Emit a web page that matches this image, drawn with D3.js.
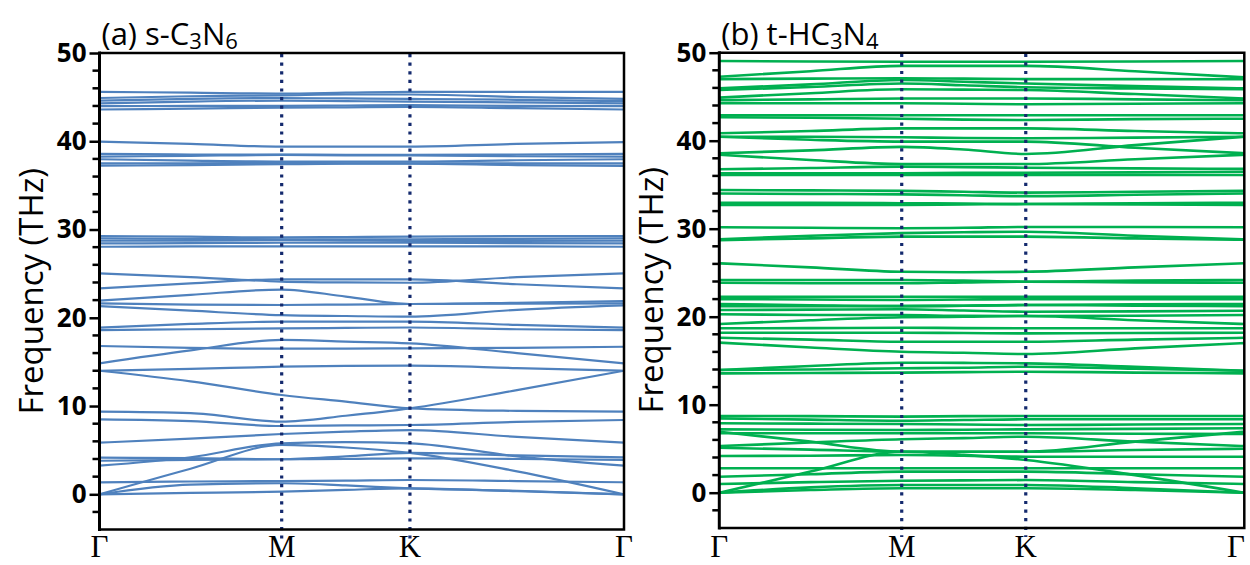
<!DOCTYPE html>
<html>
<head>
<meta charset="utf-8">
<script src="https://cdn.jsdelivr.net/npm/d3@7"></script>
<style>
  body { margin: 0; background: #fff; }
  svg { display: block; }
</style>
</head>
<body>
<svg id="chart" width="1250" height="565"></svg>
<script>
// high symmetry points along the path
const kLabels = ["Γ", "M", "K", "Γ"];
const kPathA = [0, 1, 1.704, 2.879];
const kPathB = [0, 1, 1.68, 2.878];
const yTicks = [0, 10, 20, 30, 40, 50];

// each band: values at Γ, Γ-M mid, M, M-K mid, K, K-Γ mid, Γ  (THz)
const bandsA = [
   [45.6, 45.5, 45.4, 45.5, 45.6, 45.6, 45.6],
   [44.9, 45.1, 45.2, 45.3, 45.3, 45.0, 44.8],
   [44.6, 44.8, 44.9, 44.85, 44.8, 44.7, 44.55],
   [44.3, 44.5, 44.6, 44.55, 44.5, 44.4, 44.3],
   [43.97, 44.0, 44.0, 44.05, 44.1, 44.0, 43.97],
   [43.6, 43.7, 43.8, 43.85, 43.9, 43.75, 43.6],
   [39.95, 39.7, 39.4, 39.4, 39.4, 39.7, 39.9],
   [38.56, 38.5, 38.5, 38.45, 38.45, 38.5, 38.56],
   [38.25, 38.35, 38.45, 38.4, 38.4, 38.3, 38.25],
   [37.96, 37.8, 37.7, 37.7, 37.7, 37.85, 37.96],
   [37.5, 37.5, 37.55, 37.5, 37.5, 37.5, 37.5],
   [37.23, 37.3, 37.4, 37.45, 37.45, 37.3, 37.2],
   [29.26, 29.2, 29.1, 29.15, 29.2, 29.25, 29.26],
   [29.0, 28.95, 28.9, 28.9, 28.9, 28.95, 29.0],
   [28.73, 28.75, 28.8, 28.75, 28.7, 28.7, 28.73],
   [28.43, 28.45, 28.5, 28.5, 28.5, 28.45, 28.43],
   [28.05, 28.08, 28.1, 28.1, 28.1, 28.08, 28.05],
   [25.04, 24.6, 24.1, 24.0, 23.97, 24.6, 25.04],
   [23.34, 23.9, 24.36, 24.36, 24.36, 23.8, 23.34],
   [21.94, 22.6, 23.2, 22.4, 21.56, 21.7, 21.9],
   [21.64, 21.5, 21.45, 21.5, 21.56, 21.6, 21.64],
   [21.33, 20.8, 20.3, 20.2, 20.12, 20.9, 21.4],
   [18.88, 19.3, 19.56, 19.56, 19.56, 19.2, 18.88],
   [18.6, 18.7, 18.8, 18.85, 18.9, 18.7, 18.6],
   [16.8, 16.6, 16.5, 16.5, 16.54, 16.6, 16.72],
   [14.84, 16.3, 17.5, 17.3, 17.1, 16.0, 14.84],
   [14.0, 14.2, 14.46, 14.55, 14.57, 14.3, 14.0],
   [14.0, 12.8, 11.25, 10.5, 9.74, 9.45, 9.36],
   [9.36, 9.2, 8.23, 8.9, 9.74, 11.8, 14.0],
   [8.5, 8.3, 7.74, 7.8, 7.85, 8.2, 8.42],
   [5.85, 6.3, 6.83, 7.1, 7.28, 6.5, 5.85],
   [4.15, 4.1, 3.97, 4.3, 4.7, 4.4, 4.19],
   [3.8, 3.9, 3.97, 4.0, 4.08, 4.0, 3.89],
   [3.24, 4.2, 5.78, 5.9, 5.78, 4.3, 3.24],
   [1.36, 1.45, 1.5, 1.55, 1.62, 1.5, 1.36],
   [0, 2.9, 5.59, 5.3, 4.7, 2.6, 0],
   [0, 1.1, 1.25, 1.0, 0.68, 0.4, 0],
   [0, 0.15, 0.3, 0.5, 0.68, 0.35, 0]
];

const bandsB = [
   [49.06, 49.0, 48.98, 48.98, 48.98, 49.0, 49.06],
   [47.27, 47.9, 48.5, 48.5, 48.5, 47.9, 47.2],
   [47.0, 47.05, 47.1, 47.05, 47.0, 47.0, 46.98],
   [45.95, 46.4, 46.9, 46.7, 46.5, 46.2, 45.95],
   [45.76, 46.1, 46.5, 46.3, 46.07, 45.95, 45.84],
   [44.9, 45.4, 45.84, 45.8, 45.76, 45.3, 44.8],
   [44.6, 44.7, 44.8, 44.8, 44.8, 44.7, 44.6],
   [44.25, 44.25, 44.25, 44.2, 44.14, 44.2, 44.25],
   [42.9, 42.9, 42.9, 42.9, 42.9, 42.9, 42.9],
   [42.66, 42.6, 42.5, 42.4, 42.35, 42.45, 42.5],
   [40.84, 41.1, 41.4, 41.4, 41.4, 41.1, 40.84],
   [40.45, 40.45, 40.4, 40.3, 40.27, 40.35, 40.45],
   [40.45, 40.1, 39.9, 39.9, 39.9, 39.2, 38.57],
   [38.57, 38.9, 39.3, 39.0, 38.49, 39.5, 40.45],
   [38.4, 37.8, 37.35, 37.35, 37.35, 37.9, 38.4],
   [36.75, 36.9, 37.05, 37.0, 36.93, 36.85, 36.8],
   [36.3, 36.3, 36.3, 36.35, 36.36, 36.4, 36.48],
   [36.1, 36.1, 36.1, 36.1, 36.1, 36.1, 36.1],
   [34.4, 34.35, 34.3, 34.2, 34.1, 34.2, 34.3],
   [34.0, 33.95, 33.9, 33.8, 33.7, 33.85, 34.0],
   [32.95, 32.95, 32.9, 32.85, 32.8, 32.9, 32.95],
   [32.7, 32.7, 32.7, 32.75, 32.8, 32.75, 32.7],
   [30.16, 30.1, 30.05, 30.1, 30.2, 30.2, 30.16],
   [28.8, 29.2, 29.5, 29.6, 29.66, 29.2, 28.8],
   [28.7, 28.9, 29.1, 29.1, 29.1, 28.9, 28.75],
   [26.07, 25.6, 25.1, 25.05, 25.1, 25.6, 26.07],
   [24.17, 24.17, 24.17, 24.1, 23.98, 24.1, 24.17],
   [23.86, 23.8, 23.8, 23.9, 23.98, 23.9, 23.86],
   [22.27, 22.27, 22.27, 22.27, 22.27, 22.27, 22.27],
   [22.0, 21.95, 21.9, 21.95, 22.0, 22.0, 22.0],
   [21.44, 21.3, 21.2, 21.25, 21.33, 21.4, 21.44],
   [21.2, 21.2, 21.2, 21.25, 21.33, 21.25, 21.2],
   [20.76, 20.8, 20.84, 20.7, 20.57, 20.6, 20.68],
   [20.27, 20.2, 20.19, 20.1, 20.08, 20.1, 20.19],
   [19.17, 19.6, 19.93, 20.0, 20.08, 19.6, 19.17],
   [18.68, 18.7, 18.75, 18.7, 18.68, 18.68, 18.68],
   [18.18, 18.18, 18.18, 18.15, 18.1, 18.15, 18.18],
   [17.6, 17.4, 17.16, 17.16, 17.16, 17.4, 17.6],
   [17.05, 16.5, 16.02, 15.9, 15.76, 16.4, 17.0],
   [13.94, 14.4, 14.77, 14.75, 14.7, 14.3, 13.86],
   [13.94, 14.0, 14.14, 14.2, 14.32, 14.1, 13.86],
   [13.56, 13.6, 13.64, 13.7, 13.75, 13.65, 13.56],
   [8.72, 8.7, 8.64, 8.7, 8.72, 8.72, 8.72],
   [8.45, 8.3, 8.18, 8.26, 8.34, 8.34, 8.34],
   [7.89, 7.85, 7.8, 7.75, 7.69, 7.75, 7.8],
   [7.2, 7.15, 7.13, 7.15, 7.2, 7.25, 7.32],
   [6.93, 5.8, 4.66, 4.66, 4.66, 5.8, 6.93],
   [6.75, 6.75, 6.75, 6.75, 6.75, 6.7, 6.67],
   [5.3, 5.7, 6.07, 6.2, 6.36, 5.8, 5.3],
   [5.1, 4.9, 4.66, 4.66, 4.66, 4.85, 5.0],
   [4.17, 4.2, 4.28, 4.2, 4.09, 4.09, 4.09],
   [0, 2.4, 4.66, 4.3, 3.72, 2.0, 0],
   [2.77, 2.77, 2.77, 2.77, 2.77, 2.77, 2.77],
   [1.82, 2.1, 2.39, 2.39, 2.39, 2.1, 1.82],
   [0.99, 1.2, 1.36, 1.4, 1.44, 1.2, 0.99],
   [0, 0.6, 0.875, 0.875, 0.875, 0.5, 0],
   [0, 0.3, 0.5, 0.5, 0.5, 0.3, 0]
];

const svg = d3.select("#chart");

function panel(opt) {
   const { left, right, top, bottom, kPath, bands, color, title, sub1, sub2, labelX } = opt;
   const x = d3.scaleLinear().domain([kPath[0], kPath[3]]).range([left, right]);
   const y = d3.scaleLinear().domain([-4, 50]).range([bottom, top]);
   const g = svg.append("g");

   // sample positions: symmetry points and segment midpoints
   const ks = [];
   for (let i = 0; i < 3; i++) {
      ks.push(kPath[i], (kPath[i] + kPath[i + 1]) / 2);
   }
   ks.push(kPath[3]);

   const line = d3.line()
      .x((d, i) => x(ks[i]))
      .y(d => y(d))
      .curve(d3.curveMonotoneX);

   g.append("defs").append("clipPath").attr("id", "clip" + left)
      .append("rect").attr("x", left).attr("y", top).attr("width", right - left).attr("height", bottom - top);

   g.append("g").attr("clip-path", `url(#clip${left})`)
      .selectAll("path").data(bands).join("path")
      .attr("d", line)
      .attr("fill", "none")
      .attr("stroke", color)
      .attr("stroke-width", opt.lw);

   // dotted lines at M and K
   g.selectAll("line.sym").data([kPath[1], kPath[2]]).join("line")
      .attr("class", "sym")
      .attr("x1", d => x(d)).attr("x2", d => x(d))
      .attr("y1", top + 1).attr("y2", bottom + 9)
      .attr("stroke", "#142a6e")
      .attr("stroke-width", 3.2)
      .attr("stroke-dasharray", "3.2,5.4");

   // frame
   g.append("path")
      .attr("d", `M${left},${top}H${right}V${bottom}H${left}`)
      .attr("fill", "none").attr("stroke", "#000").attr("stroke-width", 2.5);
   g.append("line")
      .attr("x1", left).attr("x2", left).attr("y1", top - 1.5).attr("y2", bottom + 1.5)
      .attr("stroke", "#000").attr("stroke-width", 3);

   // y axis
   const axis = d3.axisLeft(y).tickValues(yTicks).tickSize(10).tickPadding(3);
   const ag = g.append("g").attr("transform", `translate(${left},0)`).call(axis);
   ag.select(".domain").remove();
   ag.selectAll(".tick line").attr("stroke", "#000").attr("stroke-width", 2.5);
   ag.selectAll(".tick text")
      .attr("font-family", "'Open Sans', sans-serif")
      .attr("font-weight", 700)
      .attr("font-size", 26)
      .attr("fill", "#000");
   const minor = d3.range(-2, 50, 2).filter(v => v % 10 !== 0);
   ag.selectAll("line.minor").data(minor).join("line")
      .attr("class", "minor")
      .attr("x1", -7).attr("x2", 0)
      .attr("y1", d => y(d)).attr("y2", d => y(d))
      .attr("stroke", "#000").attr("stroke-width", 2.5);

   // k labels
   g.selectAll("text.k").data(kPath).join("text")
      .attr("class", "k")
      .attr("x", d => Math.min(x(d), 1236))
      .attr("y", 557)
      .attr("text-anchor", "middle")
      .attr("font-family", "'Liberation Serif', serif")
      .attr("font-size", 31)
      .text((d, i) => kLabels[i]);

   // y label
   g.append("text")
      .attr("transform", `translate(${labelX},${(top + bottom) / 2}) rotate(-90)`)
      .attr("text-anchor", "middle")
      .attr("dominant-baseline", "central")
      .attr("font-family", "'Open Sans', sans-serif")
      .attr("font-size", 33)
      .text("Frequency (THz)");

   // title
   const t = g.append("text")
      .attr("x", left + 2).attr("y", 45)
      .attr("font-family", "'Open Sans', sans-serif")
      .attr("font-size", 31);
   t.append("tspan").text(title);
   t.append("tspan").attr("font-size", 22).attr("dy", 4).text(sub1);
   t.append("tspan").attr("dy", -4).text("N");
   t.append("tspan").attr("font-size", 22).attr("dy", 4).text(sub2);
}

panel({ left: 99.5, right: 624, top: 53, bottom: 529.6, kPath: kPathA, bands: bandsA,
   color: "#4f81bd", lw: 2.2, title: "(a) s-C", sub1: "3", sub2: "6", labelX: 30 });
panel({ left: 719.3, right: 1244.3, top: 52.7, bottom: 527.9, kPath: kPathB, bands: bandsB,
   color: "#00b050", lw: 2.6, title: "(b) t-HC", sub1: "3", sub2: "4", labelX: 650 });
</script>
</body>
</html>
